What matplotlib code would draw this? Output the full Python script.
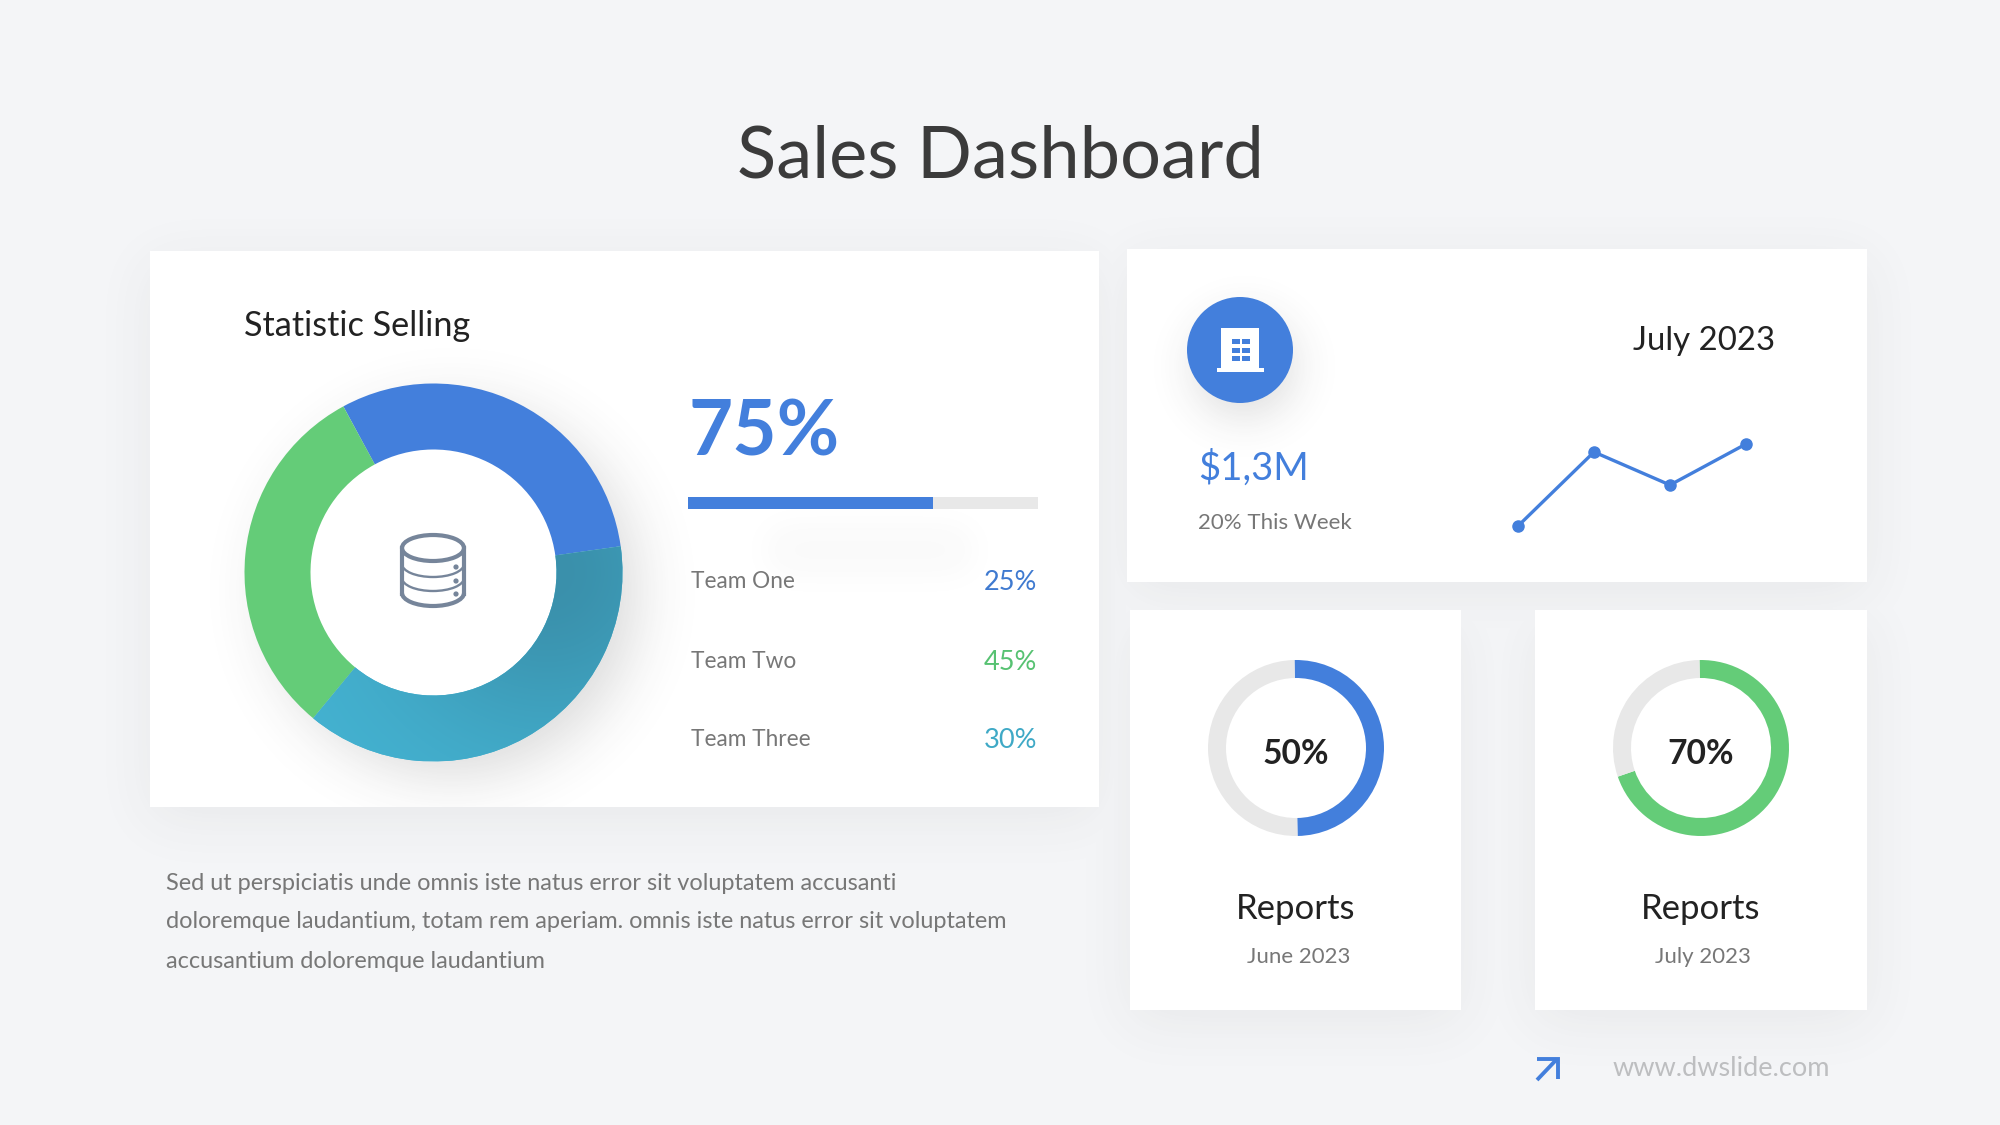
import numpy as np
import matplotlib
matplotlib.use("Agg")
import matplotlib.pyplot as plt
from matplotlib.patches import Rectangle, Circle, Ellipse, Arc

W, H = 2000, 1125
plt.rcParams['font.family'] = ['Lato', 'DejaVu Sans']

BG = "#F4F5F7"
BLUE = "#437FDC"
GREEN = "#64CC78"
TEAL = "#44B3D2"
TRACK = "#E8E8E8"
DARK = "#222222"
GREY = "#777777"

# data
donut_values = [30.7, 38.2, 31.1]
donut_colors = [BLUE, TEAL, GREEN]
team_names = ["Team One", "Team Two", "Team Three"]
team_labels = ["25%", "45%", "30%"]
team_colors = ["#3F7AD0", "#57C272", "#3FA9C6"]
progress_value = 0.70
progress_label = "75%"
trend_x = [0, 1, 2, 3]
trend_y = [0, 74, 41, 82]
ring_values = [50, 70]
ring_labels = ["50%", "70%"]
ring_colors = [BLUE, GREEN]
ring_dates = ["June 2023", "July 2023"]
paragraph = ["Sed ut perspiciatis unde omnis iste natus error sit voluptatem accusanti",
             "doloremque laudantium, totam rem aperiam. omnis iste natus error sit voluptatem",
             "accusantium doloremque laudantium"]


def blur(a, sigma):
    # gaussian blur done through the fft, no scipy here
    fy = np.fft.fftfreq(a.shape[0])[:, None]
    fx = np.fft.rfftfreq(a.shape[1])[None, :]
    g = np.exp(-2 * (np.pi * sigma) ** 2 * (fx ** 2 + fy ** 2))
    return np.fft.irfft2(np.fft.rfft2(a) * g, s=a.shape)


def rect_mask(x0, y0, x1, y1):
    m = np.zeros((H, W))
    m[y0:y1, x0:x1] = 1
    return m


def circle_mask(cx, cy, r):
    yy, xx = np.mgrid[0:H, 0:W]
    return (((xx - cx) ** 2 + (yy - cy) ** 2) <= r ** 2).astype(float)


def shadow_img(ax, alpha, zorder):
    rgba = np.zeros((H, W, 4))
    rgba[..., :3] = 0.25
    rgba[..., 3] = np.clip(alpha, 0, 1)
    ax.imshow(rgba, extent=(0, W, H, 0), zorder=zorder, interpolation="bilinear", aspect="auto")


def inset(x0, y0, x1, y1):
    a = fig.add_axes([x0 / W, 1 - y1 / H, (x1 - x0) / W, (y1 - y0) / H])
    a.set_axis_off()
    return a


fig = plt.figure(figsize=(20, 11.25), dpi=100, facecolor=BG)
ax = fig.add_axes([0, 0, 1, 1])
ax.set_xlim(0, W)
ax.set_ylim(H, 0)
ax.set_axis_off()

# cards and their soft shadows
cards = [(150, 251, 1099, 807), (1127, 249, 1867, 582), (1130, 610, 1461, 1010), (1535, 610, 1867, 1010)]
card_sh = np.zeros((H, W))
for x0, y0, x1, y1 in cards:
    card_sh = np.maximum(card_sh, blur(rect_mask(x0, y0 + 12, x1, y1 + 12), 28))
shadow_img(ax, card_sh * 0.07, 1)
for x0, y0, x1, y1 in cards:
    ax.add_patch(Rectangle((x0, y0), x1 - x0, y1 - y0, fc="white", ec="none", zorder=2))

# shadows of the things sitting on the cards
top_sh = blur(circle_mask(452, 590, 183), 30) * 0.2
top_sh = np.maximum(top_sh, blur(circle_mask(1244, 366, 50), 22) * 0.18)
top_sh = np.maximum(top_sh, blur(rect_mask(770, 530, 970, 570), 18) * 0.035)
top_sh *= rect_mask(150, 251, 1099, 807) + rect_mask(1127, 249, 1867, 582)
shadow_img(ax, top_sh, 3)
ax.set_xlim(0, W)
ax.set_ylim(H, 0)

# main donut
cx, cy, R = 433.5, 572.5, 189
ax.add_patch(Circle((cx, cy), 124, fc="white", ec="none", zorder=4))
dax = inset(cx - R, cy - R, cx + R, cy + R)
wedges, _ = dax.pie(donut_values, colors=donut_colors, startangle=118.5, counterclock=False,
                    radius=1, wedgeprops=dict(width=66 / 189, linewidth=0))
yy, xx = np.mgrid[1:-1:400j, -1:1:400j]
shade = np.exp(-((xx - 0.6) ** 2 + yy ** 2) / (2 * 0.62 ** 2))[..., None]
light = np.array(matplotlib.colors.to_rgb(TEAL))
deep = np.array(matplotlib.colors.to_rgb("#3A90AB"))
grad = dax.imshow(light + (deep - light) * shade, extent=(-1, 1, -1, 1), zorder=5, aspect="auto")
grad.set_clip_path(wedges[1])
dax.set_xlim(-1, 1)
dax.set_ylim(-1, 1)

# database icon
ICON = "#76859A"
lw_i = 3.0
ax.add_patch(Ellipse((433, 548), 62, 26, fc="none", ec=ICON, lw=lw_i, zorder=6))
ax.plot([402, 402], [548, 594], color=ICON, lw=lw_i, zorder=6)
ax.plot([464, 464], [548, 594], color=ICON, lw=lw_i, zorder=6)
for yc, lw_a in [(564, 1.7), (578, 1.7), (593, lw_i)]:
    ax.add_patch(Arc((433, yc), 62, 26, theta1=0, theta2=180, ec=ICON, lw=lw_a, zorder=6))
for yd in [567, 581, 594]:
    ax.add_patch(Circle((456, yd), 2.6, fc=ICON, ec="none", zorder=6))

# left card text
ax.text(244, 326, "Statistic Selling", fontsize=24.7, color=DARK, va="center", zorder=7)
ax.text(688, 433, progress_label, fontsize=55, fontweight="bold", color=BLUE, va="center", zorder=7)
ax.barh(503, 350, height=12, left=688, color=TRACK, zorder=6)
ax.barh(503, 350 * progress_value, height=12, left=688, color=BLUE, zorder=7)
for yt, name, lab, col in zip([582, 661, 739], team_names, team_labels, team_colors):
    ax.text(691, yt, name, fontsize=16.3, color=GREY, va="center", zorder=7)
    ax.text(1037, yt + 1, lab, fontsize=19.5, color=col, va="center", ha="right", zorder=7)
ax.set_xlim(0, W)
ax.set_ylim(H, 0)

for yt, line in zip([883, 922, 961], paragraph):
    ax.text(166, yt, line, fontsize=16.9, color=GREY, va="center", zorder=7)

ax.text(1000, 157, "Sales Dashboard", fontsize=52, color="#3B3B3B", ha="center", va="center", zorder=7)

# top right card
ax.add_patch(Circle((1240, 350), 53, fc=BLUE, ec="none", zorder=6))
ax.add_patch(Rectangle((1221, 328), 38, 40, fc="white", ec="none", zorder=7))
ax.add_patch(Rectangle((1217, 368), 47, 4, fc="white", ec="none", zorder=7))
for wy in [339, 347.5, 356]:
    for wx in [1232, 1242]:
        ax.add_patch(Rectangle((wx, wy), 7.5, 5, fc=BLUE, ec="none", zorder=8))
ax.text(1198, 468, "$1,3M", fontsize=27.5, color=BLUE, va="center", zorder=7)
ax.text(1198, 523, "20% This Week", fontsize=16, color=GREY, va="center", zorder=7)
ax.text(1704, 341, "July 2023", fontsize=23.8, color=DARK, ha="center", va="center", zorder=7)

lax = inset(1518, 444, 1746, 526)
lax.plot(trend_x, trend_y, color=BLUE, lw=2.4, marker="o", ms=8, clip_on=False)
lax.set_xlim(0, 3)
lax.set_ylim(0, 82)

# small ring cards
for xc, xd, val, lab, col, date in zip([1296, 1701], [1299, 1703], ring_values, ring_labels, ring_colors, ring_dates):
    rax = inset(xc - 88, 748 - 88, xc + 88, 748 + 88)
    rax.pie([val, 100 - val], colors=[col, TRACK], startangle=91, counterclock=False, radius=1,
            wedgeprops=dict(width=18 / 88, linewidth=0))
    rax.set_xlim(-1, 1)
    rax.set_ylim(-1, 1)
    ax.text(xc, 754, lab, fontsize=24.2, fontweight="bold", color=DARK, ha="center", va="center", zorder=7)
    ax.text(xc, 909, "Reports", fontsize=25, color=DARK, ha="center", va="center", zorder=7)
    ax.text(xd, 957, date, fontsize=16, color=GREY, ha="center", va="center", zorder=7)

# footer
ax.plot([1537, 1557], [1080, 1059], color=BLUE, lw=2.8, zorder=7, solid_capstyle="butt")
ax.plot([1537, 1558, 1558], [1059, 1059, 1079], color=BLUE, lw=2.8, zorder=7, solid_joinstyle="miter", solid_capstyle="butt")
ax.text(1721, 1068, "www.dwslide.com", fontsize=19.5, color="#BDBEC0", ha="center", va="center", zorder=7)

fig.savefig("out.png", dpi=100, facecolor=BG)
